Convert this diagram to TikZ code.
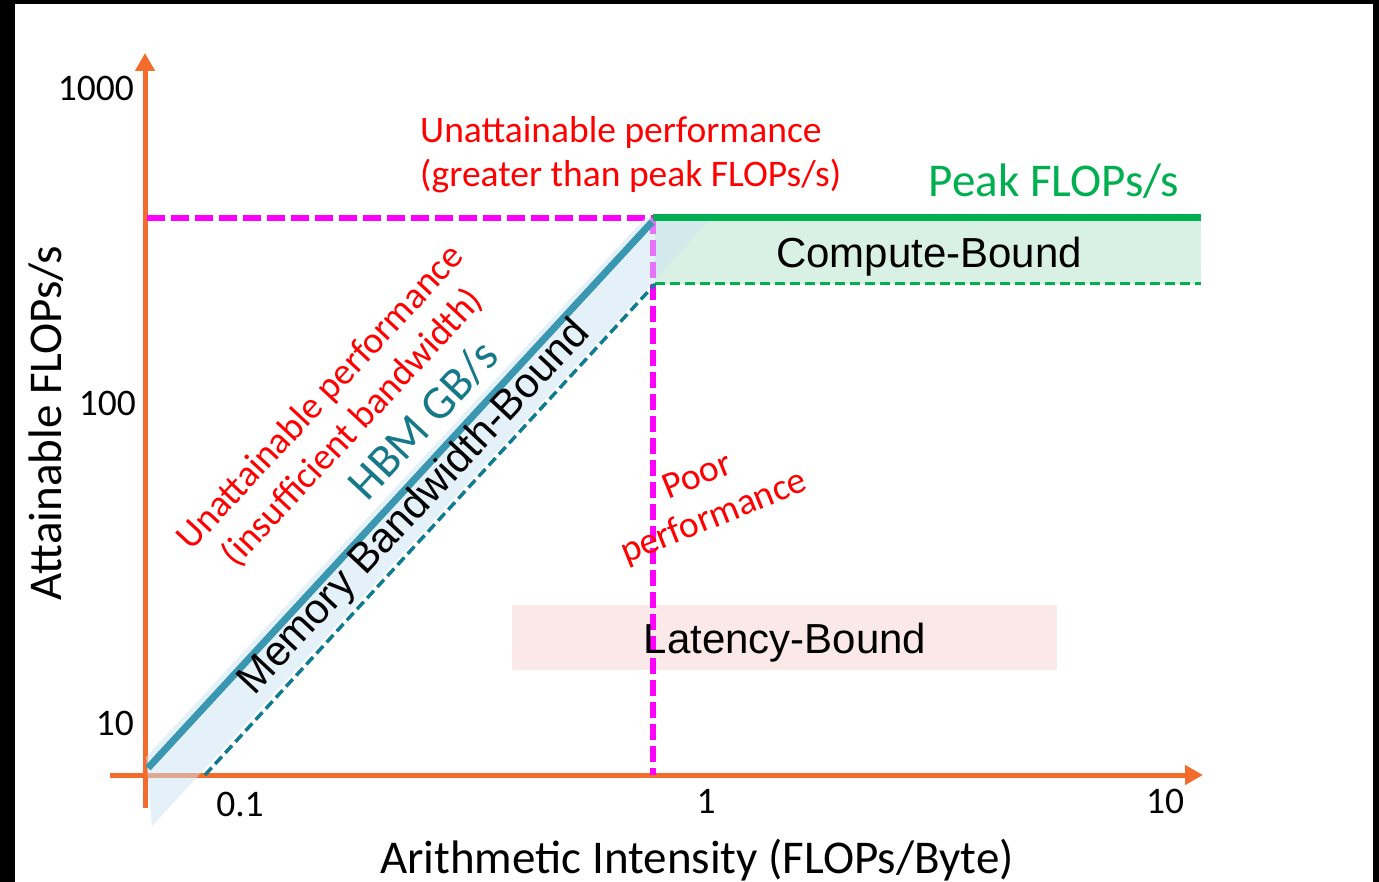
\documentclass[tikz,border=0pt]{standalone}
\usepackage{fontspec}
\setmainfont{Carlito}
\newfontfamily\arialfont{Liberation Sans}
\usetikzlibrary{arrows.meta}
\definecolor{axisorange}{HTML}{F36C2B}
\definecolor{ridge}{HTML}{FF00FF}
\definecolor{peakgreen}{HTML}{00B050}
\definecolor{computefill}{HTML}{D9F1E4}
\definecolor{latencyfill}{HTML}{FBE8E8}
\definecolor{bwline}{HTML}{3A97B2}
\definecolor{bwdash}{HTML}{107C93}
\definecolor{bwband}{HTML}{CDE5F5}
\definecolor{hbmtext}{HTML}{15798A}
\definecolor{warn}{HTML}{FF0000}

\begin{document}
\begin{tikzpicture}[x=1pt,y=-1pt,>={Triangle[length=18pt,width=19pt]},
 axis/.style={axisorange,line width=5pt},
 tick/.style={font=\fontsize{37.5}{44}\selectfont,inner sep=0pt},
 title/.style={font=\fontsize{47}{56}\selectfont,inner sep=0pt},
 note/.style={warn,font=\fontsize{37.5}{44}\selectfont,inner sep=0pt},
 bound/.style={font=\arialfont\fontsize{42}{50}\selectfont,inner sep=0pt}]
\fill[white] (0,0) rectangle (1379,882);
\useasboundingbox (0,0) rectangle (1379,882);
% black frame edges
\fill[black] (0,0) rectangle (1379,4);
\fill[black] (0,0) rectangle (15,882);
\fill[black] (1373,0) rectangle (1379,882);

% log-log axes
\coordinate (ybot) at (145,808);
\coordinate (ytop) at (145,53);
\coordinate (xleft) at (110,775);
\coordinate (xright) at (1203,775);
\draw[axis,->] (ybot) -- (ytop);
\draw[axis,->] (xleft) -- (xright);
\node[tick,anchor=east] (y1000) at (134,88) {1000};
\node[tick,anchor=east] (y100) at (136,403) {100};
\node[tick,anchor=east] (y10) at (134,723) {10};
\node[tick] (x01) at (240,804) {0.1};
\node[tick] (x1) at (706,801) {1};
\node[tick] (x10) at (1165,801) {10};
\node[title,rotate=90] (ylab) at (46,423) {Attainable FLOPs/s};
\node[title,anchor=base] (xlab) at (697,873) {Arithmetic Intensity (FLOPs/Byte)};

% regions
\coordinate (ridgetop) at (653,218);
\fill[computefill] (655,220) rectangle (1201,284);
\fill[latencyfill] (512,605) rectangle (1057,670);
\draw[ridge,line width=6pt,dash pattern=on 18pt off 6pt] (147,218) -- (ridgetop);
\draw[ridge,line width=6pt,dash pattern=on 16pt off 6pt] (ridgetop) -- (653,775);
\fill[bwband,fill opacity=.5] (146,757) -- (152,826) -- (712,218) -- (645,218) -- cycle;

% roofs
\draw[peakgreen,line width=7pt] (ridgetop) -- (1201,218);
\draw[peakgreen,line width=3pt,dash pattern=on 10pt off 5pt] (655,284) -- (1201,284);
\draw[bwline,line width=7pt] (148,768) -- (652,222);
\draw[bwdash,line width=3.5pt,dash pattern=on 10pt off 5pt] (205,775) -- (655,284);

% labels
\node[peakgreen,title,anchor=base] (peak) at (1054,197) {Peak FLOPs/s};
\node[bound,anchor=base] (compute) at (929,268) {Compute-Bound};
\node[bound,anchor=base] (latency) at (785,653) {Latency-Bound};
\node[bound,rotate=47] (membw) at (415,508) {Memory Bandwidth-Bound};
\node[hbmtext,title,rotate=47] (hbm) at (423,420) {HBM GB/s};
\node[note,align=center,rotate=47] (nobw) at (337,413) {Unattainable performance\\(insufficient bandwidth)};
\node[note,align=left,anchor=north west] (nopeak) at (420,116) {Unattainable performance\\(greater than peak FLOPs/s)};
\node[note,align=center,rotate=22] (poor) at (706,498) {Poor\\performance};
\end{tikzpicture}
\end{document}
